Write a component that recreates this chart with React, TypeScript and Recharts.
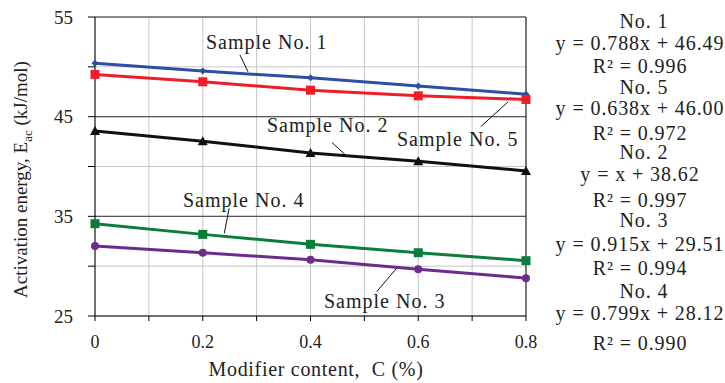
import {
  CartesianGrid,
  Line,
  LineChart,
  ReferenceLine,
  XAxis,
  YAxis,
} from "recharts";

// modifier content C (%)
const contents = [0, 0.2, 0.4, 0.6, 0.8];

// activation energy Eac (kJ/mol)
const sample1 = [50.35, 49.57, 48.9, 48.07, 47.26];
const sample5 = [49.24, 48.5, 47.66, 47.09, 46.73];
const sample2 = [43.57, 42.54, 41.36, 40.53, 39.55];
const sample4 = [34.26, 33.19, 32.19, 31.35, 30.55];
const sample3 = [32.02, 31.35, 30.65, 29.7, 28.8];

const xTicks = [0, 0.1, 0.2, 0.3, 0.4, 0.5, 0.6, 0.7, 0.8];
const yTicks = [25, 30, 35, 40, 45, 50, 55];
const yLabelled = [25, 35, 45, 55];

const fitNames = ["No. 1", "No. 5", "No. 2", "No. 3", "No. 4"];
const fitEquations = [
  "y = 0.788x + 46.49",
  "y = 0.638x + 46.00",
  "y = x + 38.62",
  "y = 0.915x + 29.51",
  "y = 0.799x + 28.12",
];
const fitR2 = ["0.996", "0.972", "0.997", "0.994", "0.990"];

const data = contents.map((c, i) => ({
  c,
  s1: sample1[i],
  s5: sample5[i],
  s2: sample2[i],
  s4: sample4[i],
  s3: sample3[i],
}));

const FONT = '"Liberation Serif", "Times New Roman", serif';

type DotProps = { cx?: number; cy?: number; index?: number };

const diamondDot = (color: string, s: number) => (p: DotProps) => {
  const { cx = 0, cy = 0, index } = p;
  return (
    <path
      key={`d-${color}-${index}`}
      d={`M${cx},${cy - s}L${cx + s},${cy}L${cx},${cy + s}L${cx - s},${cy}Z`}
      fill={color}
    />
  );
};

const squareDot = (color: string, s: number) => (p: DotProps) => {
  const { cx = 0, cy = 0, index } = p;
  return (
    <rect
      key={`s-${color}-${index}`}
      x={cx - s}
      y={cy - s}
      width={s * 2}
      height={s * 2}
      fill={color}
    />
  );
};

const triangleDot = (color: string, s: number) => (p: DotProps) => {
  const { cx = 0, cy = 0, index } = p;
  return (
    <path
      key={`t-${color}-${index}`}
      d={`M${cx},${cy - s}L${cx + s},${cy + s * 0.8}L${cx - s},${cy + s * 0.8}Z`}
      fill={color}
    />
  );
};

const circleDot = (color: string, r: number) => (p: DotProps) => {
  const { cx = 0, cy = 0, index } = p;
  return <circle key={`c-${color}-${index}`} cx={cx} cy={cy} r={r} fill={color} />;
};

// baselines of the fit text column on the right
const fitBaselines = [
  [28, 50, 73],
  [94, 115, 140],
  [159, 181, 207],
  [227, 251, 275],
  [298, 320, 350],
];

const sampleLabels = [
  { text: "Sample No. 1", x: 206, y: 49 },
  { text: "Sample No. 2", x: 267, y: 132 },
  { text: "Sample No. 5", x: 397, y: 146 },
  { text: "Sample No. 4", x: 183, y: 207 },
  { text: "Sample No. 3", x: 324, y: 308 },
];

// leader lines in data coordinates
const leaders = [
  [{ x: 0.269, y: 51.2 }, { x: 0.284, y: 49.5 }],
  [{ x: 0.44, y: 42.4 }, { x: 0.464, y: 41.2 }],
  [{ x: 0.716, y: 44.0 }, { x: 0.767, y: 46.5 }],
  [{ x: 0.249, y: 35.8 }, { x: 0.24, y: 33.3 }],
  [{ x: 0.523, y: 27.45 }, { x: 0.56, y: 29.8 }],
];

export default function App() {
  return (
    <div
      style={{
        position: "absolute",
        left: 0,
        top: 0,
        width: 725,
        height: 383,
        background: "#fff",
        fontFamily: FONT,
      }}
    >
      <LineChart
        width={725}
        height={383}
        data={data}
        margin={{ top: 17, right: 199, bottom: 27, left: 35 }}
      >
        <CartesianGrid stroke="#c6c6c6" strokeWidth={1} />
        <ReferenceLine y={45} stroke="#555" strokeWidth={1.2} />
        <ReferenceLine y={35} stroke="#555" strokeWidth={1.2} />
        <ReferenceLine y={55} stroke="#333" strokeWidth={1.2} />
        <ReferenceLine x={0.8} stroke="#333" strokeWidth={1.2} />
        <XAxis
          dataKey="c"
          type="number"
          domain={[0, 0.8]}
          ticks={xTicks}
          height={40}
          stroke="#000"
          tickSize={5}
          tickMargin={14}
          tick={{ fill: "#222", fontSize: 18, fontFamily: FONT }}
          tickFormatter={(v: number) =>
            Math.round(v * 10) % 2 === 0 ? String(Math.round(v * 10) / 10) : ""
          }
        />
        <YAxis
          type="number"
          domain={[25, 55]}
          ticks={yTicks}
          width={60}
          stroke="#000"
          tickSize={7}
          tickMargin={15}
          tick={{ fill: "#222", fontSize: 19, fontFamily: FONT }}
          tickFormatter={(v: number) => (yLabelled.includes(v) ? String(v) : "")}
        />
        {leaders.map((seg, i) => (
          <ReferenceLine key={`l${i}`} segment={seg} stroke="#111" strokeWidth={1} />
        ))}
        <Line
          dataKey="s1"
          stroke="#2c4fa3"
          strokeWidth={3}
          dot={diamondDot("#2c4fa3", 3.5)}
          isAnimationActive={false}
        />
        <Line
          dataKey="s5"
          stroke="#ef1d27"
          strokeWidth={3}
          dot={squareDot("#ef1d27", 4.5)}
          isAnimationActive={false}
        />
        <Line
          dataKey="s2"
          stroke="#111"
          strokeWidth={3}
          dot={triangleDot("#111", 5)}
          isAnimationActive={false}
        />
        <Line
          dataKey="s4"
          stroke="#0a7d3b"
          strokeWidth={3}
          dot={squareDot("#0a7d3b", 4.5)}
          isAnimationActive={false}
        />
        <Line
          dataKey="s3"
          stroke="#6b2c8f"
          strokeWidth={3}
          dot={circleDot("#6b2c8f", 4)}
          isAnimationActive={false}
        />
      </LineChart>

      <svg
        width={725}
        height={383}
        style={{ position: "absolute", left: 0, top: 0, pointerEvents: "none" }}
        fontFamily={FONT}
        fill="#222"
      >
        {sampleLabels.map((l) => (
          <text key={l.text} x={l.x} y={l.y} fontSize={20} letterSpacing={1}>
            {l.text}
          </text>
        ))}

        <text transform="translate(27,298) rotate(-90)" fontSize={19}>
          Activation energy, E
          <tspan fontSize={13} dy={5}>
            ac
          </tspan>
          <tspan dy={-5}> (kJ/mol)</tspan>
        </text>

        <text x={316} y={376} textAnchor="middle" fontSize={20} letterSpacing={0.7}>
          {"Modifier content,\u00A0 C (%)"}
        </text>

        {fitNames.map((name, i) => (
          <g key={name}>
            <text
              x={644}
              y={fitBaselines[i][0]}
              textAnchor="middle"
              fontSize={20}
              letterSpacing={0.9}
            >
              {name}
            </text>
            <text
              x={640}
              y={fitBaselines[i][1]}
              textAnchor="middle"
              fontSize={20}
              letterSpacing={0.9}
            >
              {fitEquations[i]}
            </text>
            <text
              x={640}
              y={fitBaselines[i][2]}
              textAnchor="middle"
              fontSize={20}
              letterSpacing={0.9}
            >
              R² = {fitR2[i]}
            </text>
          </g>
        ))}
      </svg>
    </div>
  );
}
